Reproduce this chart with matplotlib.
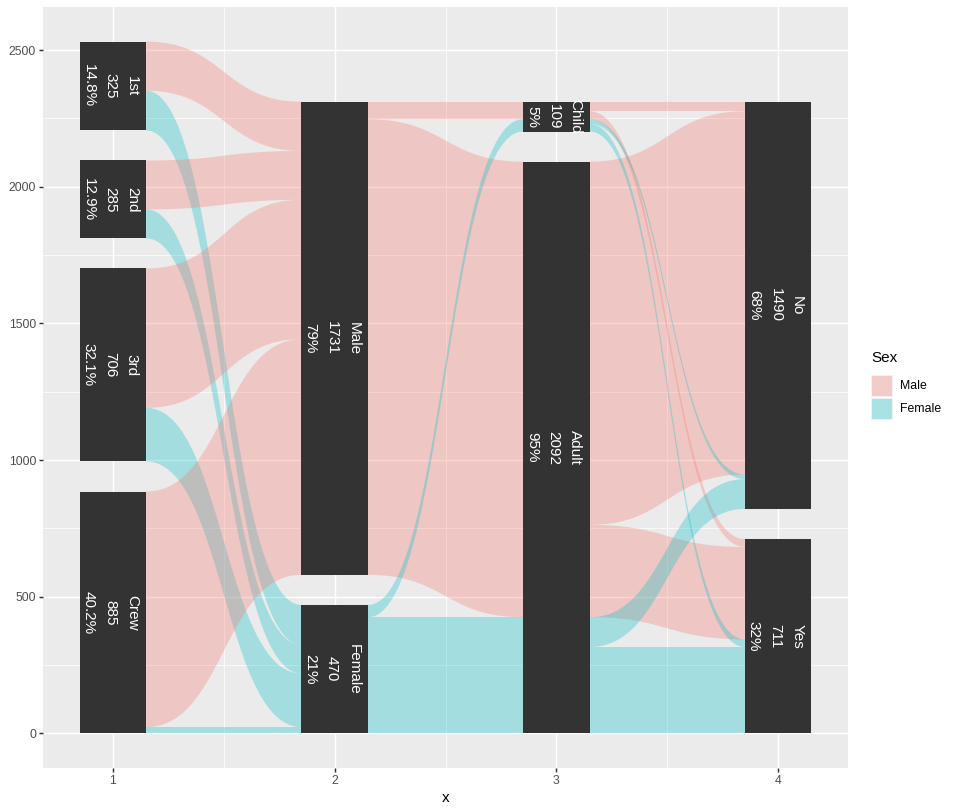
import numpy as np
import matplotlib.pyplot as plt
from matplotlib.patches import Rectangle, Polygon

plt.rcParams['font.family'] = ['Liberation Sans', 'DejaVu Sans']

# Axes of the parallel sets (levels listed top -> bottom)
classes = ['1st', '2nd', '3rd', 'Crew']
sexes = ['Male', 'Female']
ages = ['Child', 'Adult']
survived = ['No', 'Yes']

# Counts per class (1st, 2nd, 3rd, Crew)
no_child_male = [0, 0, 35, 0]
no_child_female = [0, 0, 17, 0]
no_adult_male = [118, 154, 387, 670]
no_adult_female = [4, 13, 89, 3]
yes_child_male = [5, 11, 13, 0]
yes_child_female = [1, 13, 14, 0]
yes_adult_male = [57, 14, 75, 192]
yes_adult_female = [140, 80, 76, 20]

pct_decimals = [1, 0, 0, 0]
sex_colors = ['#F8766D', '#00BFC4']

# Build records: (class, sex, age, survived) indices + count
table = {
    (0, 0, 0): no_child_male, (0, 0, 1): no_child_female,
    (0, 1, 0): no_adult_male, (0, 1, 1): no_adult_female,
    (1, 0, 0): yes_child_male, (1, 0, 1): yes_child_female,
    (1, 1, 0): yes_adult_male, (1, 1, 1): yes_adult_female,
}
records = []
for (sv, ag, sx), vals in table.items():
    for c, n in enumerate(vals):
        if n > 0:
            records.append(((c, sx, ag, sv), n))
records.sort(key=lambda r: r[0])

axes_levels = [classes, sexes, ages, survived]
total = sum(n for _, n in records)
gap = 0.05 * total
aw = 0.3  # axis width

# Stratum positions
node_bot = []
node_top = []
node_cnt = []
for k, lv in enumerate(axes_levels):
    cnt = [sum(n for key, n in records if key[k] == i) for i in range(len(lv))]
    bot = [0] * len(lv)
    top = [0] * len(lv)
    y = 0
    for i in reversed(range(len(lv))):
        bot[i] = y
        top[i] = y + cnt[i]
        y = top[i] + gap
    node_bot.append(bot)
    node_top.append(top)
    node_cnt.append(cnt)


def side_positions(k, other):
    # ribbon positions on axis k facing axis 'other'
    pos = {}
    for s in range(len(axes_levels[k])):
        rs = [r for r in records if r[0][k] == s]
        rs.sort(key=lambda r: (r[0][1], r[0][other], r[0]))
        cur = node_top[k][s]
        for key, n in rs:
            pos[key] = (cur, cur - n)
            cur -= n
    return pos


def bezier(x0, y0, x1, y1, npts=120):
    t = np.linspace(0, 1, npts)
    xm = (x0 + x1) / 2
    bx = (1 - t) ** 3 * x0 + 3 * (1 - t) ** 2 * t * xm + 3 * (1 - t) * t ** 2 * xm + t ** 3 * x1
    by = (1 - t) ** 3 * y0 + 3 * (1 - t) ** 2 * t * y0 + 3 * (1 - t) * t ** 2 * y1 + t ** 3 * y1
    return bx, by


fig = plt.figure(figsize=(9.55, 8.1), dpi=100)
ax = fig.add_axes([43 / 955, 42 / 810, 805 / 955, 761 / 810])
ax.set_facecolor('#EBEBEB')

# Ribbons: ids sharing (from stratum, sex, to stratum) are adjacent on both ends -> one band
for k in range(3):
    out_pos = side_positions(k, k + 1)
    in_pos = side_positions(k + 1, k)
    x0 = k + 1 + aw / 2
    x1 = k + 2 - aw / 2
    bands = {}
    for key, n in records:
        g = (key[k], key[1], key[k + 1])
        t0, b0 = out_pos[key]
        t1, b1 = in_pos[key]
        if g in bands:
            ot0, ob0, ot1, ob1 = bands[g]
            bands[g] = (max(ot0, t0), min(ob0, b0), max(ot1, t1), min(ob1, b1))
        else:
            bands[g] = (t0, b0, t1, b1)
    for g, (t0, b0, t1, b1) in bands.items():
        tx, ty = bezier(x0, t0, x1, t1)
        bx, by = bezier(x1, b1, x0, b0)
        xy = np.column_stack([np.concatenate([tx, bx]), np.concatenate([ty, by])])
        ax.add_patch(Polygon(xy, closed=True, facecolor=sex_colors[g[1]], alpha=0.3,
                             edgecolor='none', linewidth=0, zorder=2))

# Strata and labels
for k, lv in enumerate(axes_levels):
    for i, name in enumerate(lv):
        b, t = node_bot[k][i], node_top[k][i]
        ax.add_patch(Rectangle((k + 1 - aw / 2, b), aw, t - b, facecolor='#333333',
                               linewidth=0, zorder=3))
        pct = 100 * node_cnt[k][i] / total
        lab = '{}\n{}\n{:.{d}f}%'.format(name, node_cnt[k][i], pct, d=pct_decimals[k])
        ax.text(k + 1 - 0.012, (b + t) / 2, lab, rotation=-90, ha='center', va='center',
                rotation_mode='anchor', color='white', fontsize=11, linespacing=1.7, zorder=4)

# Scales
ax.set_xlim(0.685, 4.315)
ax.set_ylim(-126.6, 2657.7)
ax.set_xticks([1, 2, 3, 4])
ax.set_xticks([1.5, 2.5, 3.5], minor=True)
ax.set_yticks([0, 500, 1000, 1500, 2000, 2500])
ax.set_yticks([250, 750, 1250, 1750, 2250], minor=True)
ax.grid(which='major', color='white', linewidth=1.07)
ax.grid(which='minor', color='white', linewidth=0.53)
ax.set_axisbelow(True)
for sp in ax.spines.values():
    sp.set_visible(False)
ax.tick_params(which='major', length=2.75, width=1.07, color='#333333',
               labelsize=8.8, labelcolor='#4D4D4D', pad=2.2)
ax.tick_params(which='minor', length=0)
ax.set_xlabel('x', fontsize=11, labelpad=3)

# Legend
fig.text(871 / 955, 1 - 358 / 810, 'Sex', fontsize=11, ha='left', va='center')
for i, name in enumerate(sexes):
    ytop = 375 + i * 23
    fig.patches.append(Rectangle((871 / 955, 1 - (ytop + 22) / 810), 22 / 955, 22 / 810,
                                 transform=fig.transFigure, facecolor='#F2F2F2', linewidth=0))
    fig.patches.append(Rectangle((872 / 955, 1 - (ytop + 21) / 810), 20 / 955, 20 / 810,
                                 transform=fig.transFigure, facecolor=sex_colors[i],
                                 alpha=0.3, linewidth=0))
    fig.text(900 / 955, 1 - (ytop + 11) / 810, name, fontsize=8.8, ha='left', va='center')

fig.savefig('out.png', dpi=100)
